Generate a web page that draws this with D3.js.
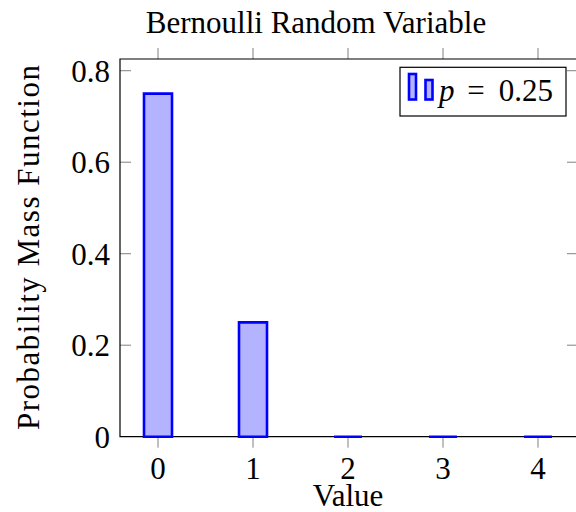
<!DOCTYPE html>
<html><head><meta charset="utf-8">
<script src="https://cdn.jsdelivr.net/npm/d3@7"></script>
<style>body{margin:0;background:#fff}svg{display:block}text{font-family:"Liberation Serif","Times New Roman",serif;fill:#000}</style>
</head><body>
<svg id="c" width="576" height="512"></svg>
<script>
const categories = [0, 1, 2, 3, 4];
const values = [0.75, 0.25, 0, 0, 0];
const yTicks = [0, 0.2, 0.4, 0.6, 0.8];
const title = "Bernoulli Random Variable";
const xLabel = "Value";
const yLabel = "Probability Mass Function";
const legendLabel = "0.25";

const svg = d3.select("#c");
const L = 120, R = 576, T = 59, B = 436.7;
const x = d3.scaleLinear().domain([-0.4, 4.4]).range([L, R]);
const y = d3.scaleLinear().domain([0, 0.8256]).range([B, T]);
const tickCol = "#808080";
const fs = 31;

// ticks
const g = svg.append("g");
g.selectAll(".xb").data(categories).join("line")
  .attr("x1", d => x(d)).attr("x2", d => x(d)).attr("y1", B).attr("y2", B + 11)
  .attr("stroke", tickCol).attr("stroke-width", 1);
g.selectAll(".xt").data(categories).join("line")
  .attr("x1", d => x(d)).attr("x2", d => x(d)).attr("y1", T).attr("y2", T - 11)
  .attr("stroke", tickCol).attr("stroke-width", 1);
g.selectAll(".yl").data(yTicks.filter(d => d > 0)).join("line")
  .attr("x1", L).attr("x2", L + 11).attr("y1", d => y(d)).attr("y2", d => y(d))
  .attr("stroke", tickCol).attr("stroke-width", 1);
g.selectAll(".yr").data(yTicks.filter(d => d > 0)).join("line")
  .attr("x1", R - 9).attr("x2", R).attr("y1", d => y(d)).attr("y2", d => y(d))
  .attr("stroke", tickCol).attr("stroke-width", 1);

// frame
svg.append("path")
  .attr("d", `M${R},${B}H${L}V${T}H${R}`)
  .attr("fill", "none").attr("stroke", "#000").attr("stroke-width", 1.2);

// bars (drawn as closed paths so zero-height bars still show their outline)
const bw = 28;
svg.append("g").selectAll("path").data(values).join("path")
  .attr("d", (d, i) => {
    const x0 = x(categories[i]) - bw / 2, x1 = x0 + bw, y0 = y(0), y1 = y(d);
    return `M${x0},${y0}V${y1}H${x1}V${y0}Z`;
  })
  .attr("fill", "#b3b3ff").attr("stroke", "#0000ff").attr("stroke-width", 2.6);

// tick labels
svg.append("g").selectAll("text").data(categories).join("text")
  .attr("x", d => x(d)).attr("y", 479).attr("text-anchor", "middle")
  .attr("font-size", fs).text(d => d);
svg.append("g").selectAll("text").data(yTicks).join("text")
  .attr("x", 110).attr("y", d => y(d) + 11).attr("text-anchor", "end")
  .attr("font-size", fs).text(d => d === 0 ? "0" : d.toFixed(1));

// titles
svg.append("text").attr("x", 316).attr("y", 33).attr("text-anchor", "middle")
  .attr("font-size", fs).text(title);
svg.append("text").attr("x", 348).attr("y", 506).attr("text-anchor", "middle")
  .attr("font-size", fs).text(xLabel);
svg.append("text").attr("transform", "translate(39,247.5) rotate(-90)").attr("text-anchor", "middle")
  .attr("font-size", fs).attr("textLength", 365).attr("lengthAdjust", "spacing").text(yLabel);

// legend
const lg = svg.append("g");
lg.append("rect").attr("x", 400).attr("y", 67.3).attr("width", 166).attr("height", 48.7)
  .attr("fill", "#fff").attr("stroke", "#000").attr("stroke-width", 1.2);
lg.append("rect").attr("x", 409).attr("y", 74).attr("width", 7).attr("height", 25.5)
  .attr("fill", "#b3b3ff").attr("stroke", "#0000ff").attr("stroke-width", 2.6);
lg.append("rect").attr("x", 425.5).attr("y", 80).attr("width", 7).attr("height", 19.5)
  .attr("fill", "#b3b3ff").attr("stroke", "#0000ff").attr("stroke-width", 2.6);
lg.append("text").attr("x", 439).attr("y", 101).attr("font-size", fs).attr("font-style", "italic").text("p");
lg.append("text").attr("x", 476).attr("y", 101).attr("font-size", fs).attr("text-anchor", "middle").text("=");
lg.append("text").attr("x", 553).attr("y", 101).attr("font-size", fs).attr("text-anchor", "end").text(legendLabel);
</script>
</body></html>
